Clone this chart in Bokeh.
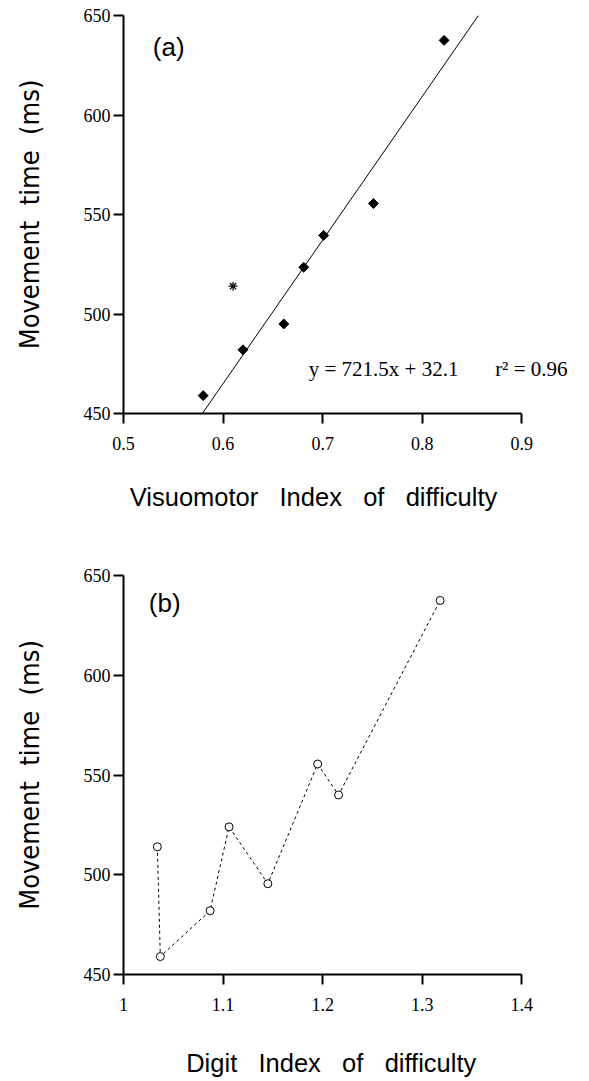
from bokeh.plotting import figure
from bokeh.layouts import column
from bokeh.models import FixedTicker, CustomJSTickFormatter, Label
from bokeh.embed import file_html
from bokeh.resources import INLINE

# ---- data ----
vis_idx = [0.580, 0.620, 0.661, 0.681, 0.701, 0.751, 0.822]
mt_vis = [459, 482, 495, 523.5, 539.5, 555.5, 637.5]
vis_outlier_x = [0.610]
vis_outlier_y = [514]
fit_slope = 721.5
fit_intercept = 32.1

digit_idx = [1.034, 1.037, 1.087, 1.106, 1.145, 1.195, 1.216, 1.318]
mt_digit = [514, 459, 482, 524, 495.5, 555.5, 540, 637.5]

xticks_a = [0.5, 0.6, 0.7, 0.8, 0.9]
xticks_b = [1.0, 1.1, 1.2, 1.3, 1.4]
yticks = [450, 500, 550, 600, 650]

SERIF = "Liberation Serif"
SANS = "Liberation Sans"
NARROW = "'Liberation Sans Narrow', 'DejaVu Sans Condensed', sans-serif"
NB = "\u00a0"


def style(p, xticks, xbounds, xlabel):
    p.grid.visible = False
    p.outline_line_color = None
    p.background_fill_color = "white"
    p.border_fill_color = "white"
    fmt = CustomJSTickFormatter(code="return tick.toString();")
    for ax in (p.xaxis[0], p.yaxis[0]):
        ax.axis_line_width = 2
        ax.axis_line_color = "black"
        ax.major_tick_line_width = 2
        ax.major_tick_line_color = "black"
        ax.major_tick_in = 0
        ax.major_tick_out = 10
        ax.minor_tick_line_color = None
        ax.major_label_text_font = SERIF
        ax.major_label_text_font_size = "18px"
        ax.major_label_text_color = "black"
        ax.formatter = fmt
    p.xaxis.ticker = FixedTicker(ticks=xticks)
    p.yaxis.ticker = FixedTicker(ticks=yticks)
    p.xaxis.bounds = xbounds
    p.xaxis.major_label_standoff = 13
    p.yaxis.major_label_standoff = 3
    p.xaxis.axis_label = xlabel
    p.xaxis.axis_label_text_font = SANS
    p.xaxis.axis_label_text_font_size = "25.5px"
    p.xaxis.axis_label_text_font_style = "normal"
    p.xaxis.axis_label_text_color = "black"
    p.yaxis.axis_label = "Movement" + NB * 2 + "time" + NB * 2 + "(ms)"
    p.yaxis.axis_label_text_font = NARROW
    p.yaxis.axis_label_text_font_size = "27px"
    p.yaxis.axis_label_text_font_style = "normal"
    p.yaxis.axis_label_text_color = "black"
    p.yaxis.axis_label_standoff = 36


# ---- panel (a) ----
pa = figure(width=589, height=563, x_range=(0.5, 0.96), y_range=(450, 650),
            output_backend="svg", toolbar_location=None,
            min_border_left=123, min_border_top=15, min_border_right=8,
            min_border_bottom=150)
style(pa, xticks_a, (0.5, 0.9),
      "Visuomotor" + NB * 3 + "Index" + NB * 3 + "of" + NB * 3 + "difficulty" + NB * 11)
pa.xaxis.axis_label_standoff = 30

fit_x = [(450 - fit_intercept) / fit_slope, (650 - fit_intercept) / fit_slope]
fit_y = [fit_slope * v + fit_intercept for v in fit_x]
pa.line(fit_x, fit_y, line_color="black", line_width=1)
pa.scatter(vis_idx, mt_vis, marker="square", angle=0.785398, size=7,
           fill_color="black", line_color="black")
pa.scatter(vis_outlier_x, vis_outlier_y, marker="asterisk", size=9,
           line_color="black", line_width=1.2)

pa.add_layout(Label(x=0.5294, y=634, text="(a)", text_font=SANS,
                    text_font_size="26px", text_baseline="middle", text_color="black"))
pa.add_layout(Label(x=0.686, y=472.5,
                    text="y = 721.5x + 32.1" + NB * 7 + "r\u00b2 = 0.96",
                    text_font=SERIF, text_font_size="21px",
                    text_baseline="middle", text_color="black"))

# ---- panel (b) ----
pb = figure(width=589, height=518, x_range=(1.0, 1.46), y_range=(450, 650),
            output_backend="svg", toolbar_location=None,
            min_border_left=123, min_border_top=12, min_border_right=8,
            min_border_bottom=107)
style(pb, xticks_b, (1.0, 1.4),
      "Digit" + NB * 3 + "Index" + NB * 3 + "of" + NB * 3 + "difficulty" + NB * 6)
pb.xaxis.axis_label_standoff = 35

pb.line(digit_idx, mt_digit, line_color="black", line_width=1, line_dash="3 3")
pb.scatter(digit_idx, mt_digit, marker="circle", size=8, fill_color="white",
           line_color="black", line_width=1)
pb.add_layout(Label(x=1.0254, y=636, text="(b)", text_font=SANS,
                    text_font_size="26px", text_baseline="middle", text_color="black"))

layout = column(pa, pb, spacing=0)
open("out.html", "w").write(file_html(layout, INLINE))
